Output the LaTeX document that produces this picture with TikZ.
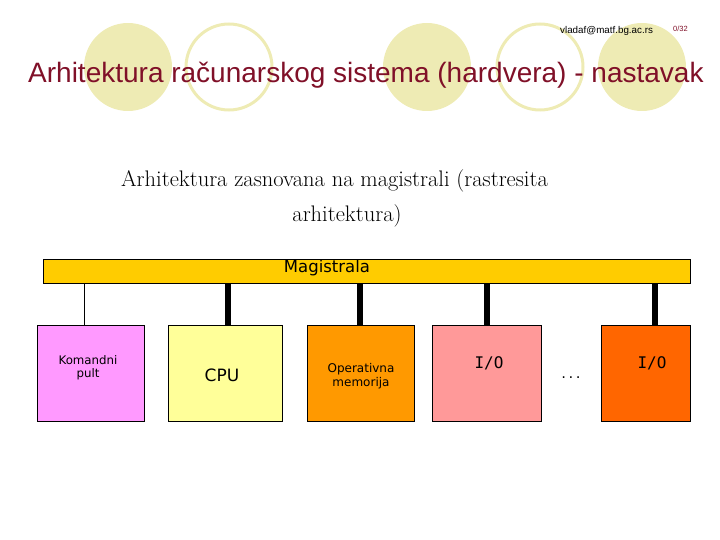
\documentclass[tikz,border=0pt]{standalone}
\usepackage{fontspec}
\newfontfamily\arialf{Liberation Sans}
\newfontfamily\dejaf{DejaVu Sans}
\newfontfamily\monof{DejaVu Sans Mono}
\definecolor{circ}{RGB}{238,235,180}
\definecolor{titlered}{RGB}{128,16,40}
\definecolor{busyellow}{HTML}{FFCC00}
\definecolor{pinkbox}{HTML}{FF99FF}
\definecolor{yellowbox}{HTML}{FFFF99}
\definecolor{orangebox}{HTML}{FF9900}
\definecolor{salmonbox}{HTML}{FF9999}
\definecolor{redorange}{HTML}{FF6600}
\tikzset{
  blob/.style={fill=circ},
  ring/.style={draw=circ,line width=3pt},
  unitbox/.style={draw=black,line width=0.8pt,minimum width=107pt,minimum height=96pt,inner sep=0pt},
  busbar/.style={draw=black,line width=0.8pt,fill=busyellow,minimum width=647pt,minimum height=24pt,inner sep=0pt},
  thickconn/.style={line width=6.5pt,line cap=butt},
  thinconn/.style={line width=0.8pt},
  lbl/.style={inner sep=0pt,align=center}
}
\begin{document}
\begin{tikzpicture}[x=1pt,y=-1pt]
\useasboundingbox (0,0) rectangle (720,540);
% decorative circles
\fill[blob] (128,67) circle (44pt);
\draw[ring] (229,67) circle (43pt);
\fill[blob] (427,67) circle (44pt);
\draw[ring] (540,67) circle (43pt);
\fill[blob] (642,67) circle (44pt);
% header texts
\node[anchor=base west,inner sep=0pt,font=\arialf\fontsize{9.8}{11}\selectfont] (email) at (560,33.5) {vladaf@matf.bg.ac.rs};
\node[anchor=base west,inner sep=0pt,text=titlered,font=\arialf\fontsize{7.5}{9}\selectfont] (page) at (673,32) {0/32};
\node[anchor=base west,inner sep=0pt,text=titlered,font=\arialf\fontsize{28}{32}\selectfont] (title) at (28,83) {Arhitektura računarskog sistema (hardvera) - nastavak};
% subtitle
\node[anchor=base,inner sep=0pt,font=\fontsize{22.5}{26}\selectfont] (sub1) at (334.5,187) {Arhitektura zasnovana na magistrali (rastresita};
\node[anchor=base,inner sep=0pt,font=\fontsize{22.5}{26}\selectfont] (sub2) at (347,222) {arhitektura)};
% bus
\node[busbar] (bus) at (366.5,271) {};
\node[lbl,font=\dejaf\fontsize{16.5}{18}\selectfont] (buslbl) at (327,268) {Magistrala};
% boxes
\node[unitbox,fill=pinkbox,minimum width=107pt] (kp) at (90.5,373) {};
\node[unitbox,fill=yellowbox,minimum width=114pt] (cpu) at (225,373) {};
\node[unitbox,fill=orangebox,minimum width=107pt] (mem) at (360.5,373) {};
\node[unitbox,fill=salmonbox,minimum width=109pt] (io1) at (486.5,373) {};
\node[unitbox,fill=redorange,minimum width=89pt] (io2) at (645.5,373) {};
% connectors
\draw[thinconn] ([xshift=-6.5pt]kp.north) -- ([xshift=-6.5pt]kp.north |- bus.south);
\draw[thickconn] ([xshift=3pt]cpu.north) -- ([xshift=3pt]cpu.north |- bus.south);
\draw[thickconn] ([xshift=-0.5pt]mem.north) -- ([xshift=-0.5pt]mem.north |- bus.south);
\draw[thickconn] ([xshift=0.5pt]io1.north) -- ([xshift=0.5pt]io1.north |- bus.south);
\draw[thickconn] ([xshift=9.5pt]io2.north) -- ([xshift=9.5pt]io2.north |- bus.south);
% labels
\node[lbl,font=\dejaf\fontsize{11.8}{13}\selectfont] (kplbl) at (88,368) {Komandni\\pult};
\node[lbl,font=\dejaf\fontsize{17}{19}\selectfont] (cpulbl) at (222,375) {CPU};
\node[lbl,font=\dejaf\fontsize{12}{14.5}\selectfont] (memlbl) at (361,376) {Operativna\\memorija};
\node[lbl,font=\monof\fontsize{16}{18}\selectfont] (io1lbl) at (489,363) {I/O};
\node[lbl,font=\monof\fontsize{16}{18}\selectfont] (io2lbl) at (652,363) {I/O};
\node[lbl,font=\monof\fontsize{12}{14}\selectfont] (dots) at (571,378) {...};
\end{tikzpicture}
\end{document}
